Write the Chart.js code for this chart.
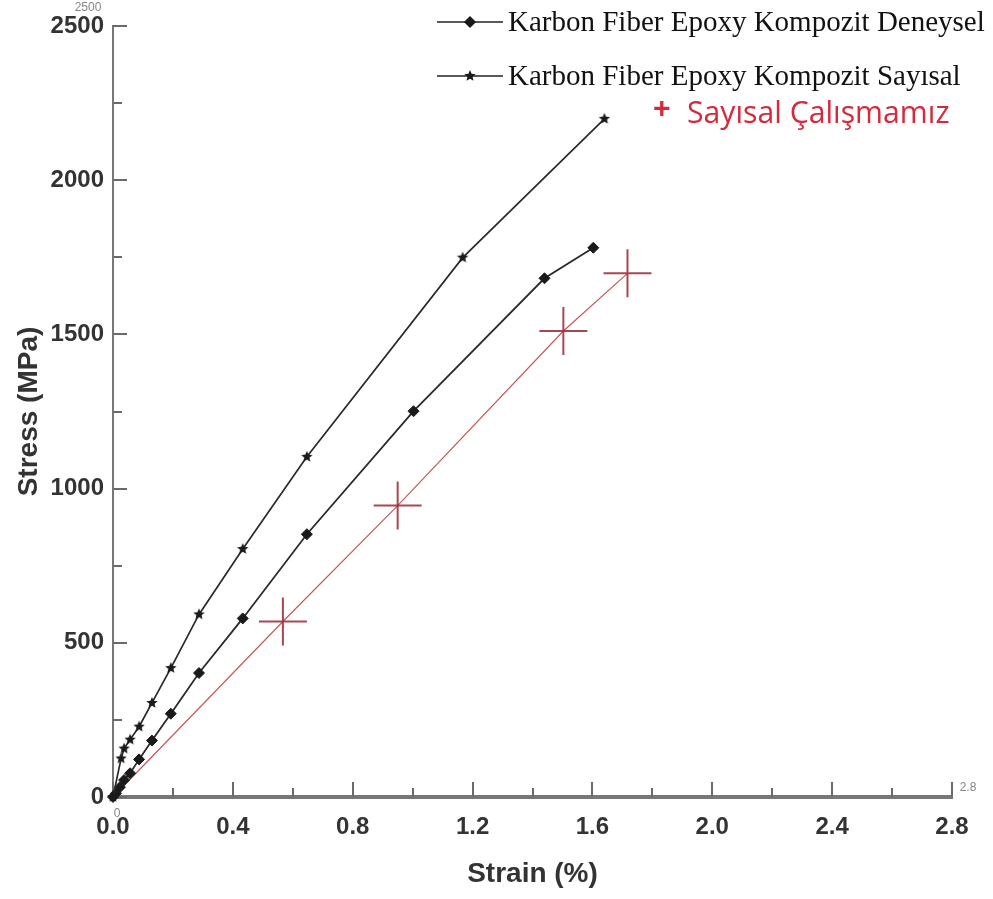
<!DOCTYPE html>
<html>
<head>
<meta charset="utf-8">
<script src="https://cdn.jsdelivr.net/npm/chart.js@4.4.1/dist/chart.umd.min.js"></script>
<style>
  html, body { margin: 0; padding: 0; background: #fff; }
</style>
</head>
<body>
<canvas id="stressChart" width="993" height="899"></canvas>
<script>
// Karbon fiber epoxy - deneysel (diamond markers)
const strainDeneysel = [0, 0.01, 0.023, 0.037, 0.057, 0.087, 0.13, 0.193, 0.287, 0.433, 0.647, 1.003, 1.44, 1.603];
const stressDeneysel = [0, 12, 32, 55, 77, 122, 183, 270, 402, 579, 852, 1251, 1682, 1781];

// Karbon fiber epoxy - sayisal (star markers)
const strainSayisal = [0, 0.027, 0.037, 0.057, 0.087, 0.13, 0.193, 0.287, 0.433, 0.647, 1.167, 1.64];
const stressSayisal = [0, 125, 157, 186, 228, 305, 418, 592, 804, 1103, 1749, 2199];

// Sayisal calismamiz (red crosses)
const strainCalisma = [0, 0.567, 0.95, 1.503, 1.717];
const stressCalisma = [0, 569, 945, 1511, 1698];

const xTicks = [0, 0.4, 0.8, 1.2, 1.6, 2.0, 2.4, 2.8];
const yTicks = [0, 500, 1000, 1500, 2000, 2500];

const legendLabels = ['Karbon Fiber Epoxy Kompozit Deneysel', 'Karbon Fiber Epoxy Kompozit Sayısal', 'Sayısal Çalışmamız'];

function toPoints(xs, ys) {
    return xs.map(function (x, i) { return { x: x, y: ys[i] }; });
}

// small filled star used as point style
function makeStar(r, color) {
    const c = document.createElement('canvas');
    const s = Math.ceil(r * 2 + 2);
    c.width = s; c.height = s;
    const g = c.getContext('2d');
    g.fillStyle = color;
    g.beginPath();
    for (let i = 0; i < 10; i++) {
        const rr = i % 2 ? r * 0.45 : r;
        const a = -Math.PI / 2 + i * Math.PI / 5;
        g.lineTo(s / 2 + rr * Math.cos(a), s / 2 + rr * Math.sin(a));
    }
    g.closePath();
    g.fill();
    return c;
}
const starImg = makeStar(6, '#1a1a1a');

// inward tick marks on both axes
const inwardTicks = {
    id: 'inwardTicks',
    beforeDatasetsDraw(chart) {
        const ctx = chart.ctx;
        const xs = chart.scales.x, ys = chart.scales.y;
        const left = chart.chartArea.left, bottom = chart.chartArea.bottom;
        ctx.save();
        ctx.strokeStyle = '#6a6a6a';
        ctx.lineWidth = 2;
        for (let v = 0; v <= 2500; v += 250) {
            const py = Math.round(ys.getPixelForValue(v));
            const len = v % 500 === 0 ? 14 : 9;
            ctx.beginPath(); ctx.moveTo(left, py); ctx.lineTo(left + len, py); ctx.stroke();
        }
        for (let i = 0; i <= 14; i++) {
            const px = Math.round(xs.getPixelForValue(i * 0.2));
            const len = i % 2 === 0 ? 15 : 9;
            ctx.beginPath(); ctx.moveTo(px, bottom); ctx.lineTo(px, bottom - len); ctx.stroke();
        }
        ctx.restore();
    }
};

// fit a text to a given width by choosing the font size
function fitFont(ctx, text, width, family, weight) {
    ctx.font = (weight || '') + ' 20px ' + family;
    const size = 20 * width / ctx.measureText(text).width;
    ctx.font = (weight || '') + ' ' + size.toFixed(1) + 'px ' + family;
}

// legend drawn in the upper right, plus faint ghost labels
const customLegend = {
    id: 'customLegend',
    afterDraw(chart) {
        const ctx = chart.ctx;
        ctx.save();
        ctx.strokeStyle = '#222';
        ctx.lineWidth = 1.5;
        [22, 76].forEach(function (y) {
            ctx.beginPath(); ctx.moveTo(437, y); ctx.lineTo(503, y); ctx.stroke();
        });
        ctx.fillStyle = '#1a1a1a';
        ctx.strokeStyle = '#1a1a1a';
        Chart.helpers.drawPoint(ctx, { pointStyle: 'rectRot', radius: 5, rotation: 0, borderWidth: 1 }, 470, 22);
        ctx.drawImage(starImg, 470 - starImg.width / 2, 76 - starImg.height / 2);

        ctx.fillStyle = '#111';
        ctx.textBaseline = 'middle';
        ctx.textAlign = 'left';
        fitFont(ctx, legendLabels[0], 477, '"Liberation Serif"');
        ctx.fillText(legendLabels[0], 508, 23);
        ctx.fillText(legendLabels[1], 508, 77);

        ctx.fillStyle = '#d42a3c';
        ctx.font = 'bold 30px "Liberation Sans"';
        ctx.fillText('+', 653, 110);
        fitFont(ctx, legendLabels[2], 263, '"Open Sans"');
        ctx.fillText(legendLabels[2], 687, 114);

        // faint duplicate labels as in the source image
        ctx.fillStyle = 'rgba(80,80,80,0.7)';
        ctx.font = '12px "Liberation Sans"';
        ctx.textAlign = 'center';
        ctx.fillText('2500', 88, 8);
        ctx.fillText('2.8', 968, 788);
        ctx.fillText('0', 117, 814);
        ctx.restore();
    }
};

const tickFont = { family: '"Liberation Sans", Arial, sans-serif', size: 24, weight: 'bold' };
const titleFont = { family: '"Liberation Sans", Arial, sans-serif', size: 28, weight: 'bold' };

new Chart(document.getElementById('stressChart').getContext('2d'), {
    type: 'scatter',
    data: {
        datasets: [{
            label: legendLabels[1],
            data: toPoints(strainSayisal, stressSayisal),
            showLine: true,
            borderColor: '#2a2a2a',
            borderWidth: 1.7,
            pointStyle: starImg,
            pointRadius: 6,
            clip: false
        }, {
            label: legendLabels[0],
            data: toPoints(strainDeneysel, stressDeneysel),
            showLine: true,
            borderColor: '#2a2a2a',
            borderWidth: 1.8,
            backgroundColor: '#1a1a1a',
            pointStyle: 'rectRot',
            pointRadius: 5.5,
            pointBorderWidth: 1,
            pointBorderColor: '#1a1a1a',
            clip: false
        }, {
            label: legendLabels[2],
            data: toPoints(strainCalisma, stressCalisma),
            showLine: true,
            borderColor: '#c45a5a',
            borderWidth: 1.2,
            pointStyle: 'cross',
            pointRadius: [3, 24, 24, 24, 24],
            pointBorderColor: 'rgba(150,40,50,0.85)',
            pointBorderWidth: 2,
            clip: false
        }]
    },
    options: {
        responsive: false,
        animation: false,
        layout: { padding: { left: 0, right: 41, top: 20, bottom: 0 } },
        scales: {
            x: {
                type: 'linear',
                min: 0,
                max: 2.8,
                afterFit: function (scale) { scale.height = 102; },
                afterBuildTicks: function (scale) { scale.ticks = xTicks.map(function (v) { return { value: v }; }); },
                ticks: {
                    callback: function (value) { return value.toFixed(1); },
                    font: tickFont,
                    color: '#333',
                    padding: 16,
                    maxRotation: 0
                },
                grid: { display: true, drawOnChartArea: false, drawTicks: false },
                border: { display: true, color: '#777', width: 4 },
                title: {
                    display: true,
                    text: 'Strain (%)',
                    font: titleFont,
                    color: '#333',
                    padding: { top: 0, bottom: 8 }
                }
            },
            y: {
                min: 0,
                max: 2500,
                afterFit: function (scale) { scale.width = 113; },
                afterBuildTicks: function (scale) { scale.ticks = yTicks.map(function (v) { return { value: v }; }); },
                ticks: {
                    callback: function (value) { return String(value); },
                    font: tickFont,
                    color: '#333',
                    padding: 9
                },
                grid: { display: true, drawOnChartArea: false, drawTicks: false },
                border: { display: true, color: '#777', width: 2 },
                title: {
                    display: true,
                    text: 'Stress (MPa)',
                    font: titleFont,
                    color: '#333',
                    padding: { top: 12, bottom: 0 }
                }
            }
        },
        plugins: {
            legend: { display: false },
            tooltip: { enabled: false }
        }
    },
    plugins: [inwardTicks, customLegend]
});
</script>
</body>
</html>
